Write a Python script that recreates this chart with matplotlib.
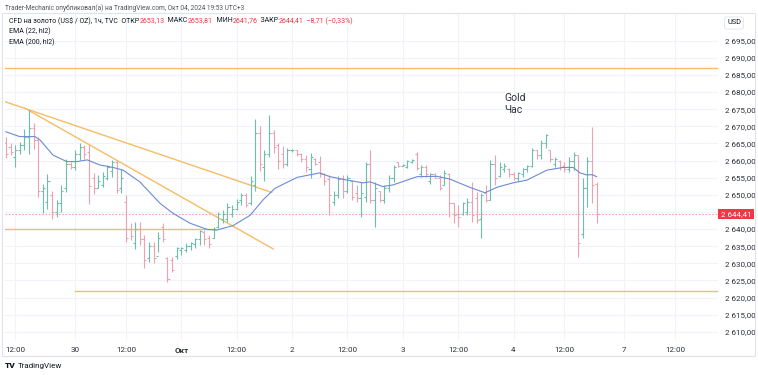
import matplotlib.pyplot as plt
import matplotlib.transforms as mtransforms
from matplotlib.patches import Rectangle

plt.rcParams['font.family'] = ['Roboto', 'DejaVu Sans']

# hourly OHLC bars, CFD gold (TVC), Sep 27 - Oct 4 2024
opens = [2665, 2664, 2661, 2663, 2664.5, 2667, 2669.5, 2666, 2651, 2648, 2650, 2645, 2647.5,
         2652, 2659, 2658, 2662, 2664, 2662.5, 2655, 2652, 2653, 2655, 2657, 2659.5, 2652,
         2648, 2640, 2636, 2640, 2637, 2631.5, 2635, 2632, 2640.5, 2631.5, 2631, 2632, 2634,
         2634, 2635, 2635.5, 2637, 2639, 2637.5, 2637.5, 2640.5, 2643, 2643, 2644.5, 2646, 2648.5,
         2650, 2647.5, 2653, 2668, 2658, 2662, 2668, 2664.5, 2662, 2659, 2663, 2663, 2662,
         2660.5, 2657.5, 2660.5, 2659.5, 2656, 2654.5, 2648, 2650, 2655, 2651, 2654, 2650.5, 2649,
         2649.5, 2659, 2648.5, 2651, 2648.5, 2652, 2655, 2659.5, 2658.5, 2658, 2659.5, 2662, 2656,
         2658, 2654, 2656, 2655, 2653, 2656, 2647.5, 2644.5, 2644.5, 2645, 2648, 2649, 2643,
         2650.5, 2648.5, 2659, 2655.5, 2657.5, 2657.5, 2656, 2655, 2656, 2657.5, 2658.5, 2663, 2661.5,
         2665, 2663, 2659, 2660, 2658.5, 2657.5, 2660, 2661.5, 2638.5, 2652, 2660, 2653.13]
highs = [2667, 2665, 2664.5, 2665.5, 2669.1, 2674.7, 2670.9, 2667, 2653.3, 2656, 2651, 2648.5, 2652.9,
         2660.6, 2659.5, 2663, 2665, 2664.5, 2664.5, 2656.3, 2655.8, 2656.8, 2658.7, 2660.2, 2660.2, 2657.5,
         2649.9, 2641.7, 2642.1, 2642.1, 2638.2, 2636.3, 2636.3, 2639.2, 2641.7, 2631.9, 2631.9, 2634.8, 2634.8,
         2635.8, 2636.3, 2637.3, 2639.7, 2639.7, 2638.2, 2640.7, 2645.1, 2645.5, 2647.5, 2647, 2648.9, 2650.5,
         2650.4, 2655.5, 2672, 2670, 2663.1, 2673.3, 2668.9, 2665.2, 2664.2, 2663.7, 2663.5, 2663.1, 2662.2,
         2661.7, 2662.2, 2660.7, 2661.2, 2656.3, 2655.8, 2651, 2655.5, 2655.8, 2655.8, 2654.3, 2652.9, 2653.8,
         2659.7, 2663.1, 2653.8, 2651, 2652.9, 2655.8, 2658.7, 2659.7, 2659, 2660.2, 2660.6, 2662.6, 2658.7,
         2658.7, 2656.3, 2656.3, 2655.8, 2657.2, 2656.3, 2647.5, 2647, 2648, 2649, 2653.8, 2650.9, 2650.4,
         2652.9, 2660.2, 2661.6, 2659.7, 2659.2, 2657.7, 2656.8, 2656.8, 2657.7, 2658.7, 2663.6, 2663.1, 2666,
         2667.9, 2663.1, 2661.1, 2660.2, 2659.7, 2661.1, 2662.6, 2661.6, 2654.8, 2661.1, 2669.9, 2653.81]
lows = [2660.8, 2661.6, 2658.2, 2661.8, 2663.1, 2662, 2663.5, 2649.5, 2644.6, 2646, 2643, 2643.6, 2645.1,
        2650.9, 2657.5, 2657.2, 2660.2, 2660.6, 2647.2, 2650.1, 2651.9, 2652.4, 2654.3, 2655.3, 2650.4, 2650.5,
        2636.3, 2636.8, 2634.2, 2635.3, 2628.5, 2630.5, 2630, 2633.4, 2636.3, 2624.4, 2627.5, 2631.4, 2632.4,
        2633.4, 2633.9, 2634.4, 2635.3, 2635.3, 2634.4, 2637.3, 2640.2, 2641.7, 2642.1, 2643.6, 2645.5, 2647,
        2646.5, 2647, 2651, 2657, 2653.9, 2661.1, 2662.2, 2657.4, 2657.9, 2658.4, 2662.5, 2661.2, 2659.7,
        2656.8, 2654.9, 2658.7, 2655.3, 2652.9, 2644.2, 2647, 2649, 2649, 2650.5, 2648.5, 2648, 2643.6,
        2648, 2647.5, 2640.7, 2648, 2647.5, 2650.9, 2653.8, 2658.2, 2658.3, 2657.7, 2659.2, 2657.2, 2655.3,
        2655.3, 2653.3, 2654.8, 2651.4, 2652.8, 2643.6, 2641.7, 2640.7, 2644.1, 2644.1, 2642.1, 2641.7, 2637.3,
        2648, 2648.5, 2652.9, 2655.3, 2656.8, 2655.3, 2654.3, 2654, 2655.3, 2656.8, 2658.2, 2660.6, 2660.6,
        2663.6, 2659.7, 2658.2, 2657.2, 2656.8, 2656.8, 2657.2, 2631.9, 2637.3, 2646.5, 2647.5, 2641.76]
closes = [2662, 2662.5, 2663, 2664.5, 2667, 2669.5, 2666, 2651, 2652, 2654, 2645, 2647.5, 2651,
          2659, 2658, 2662, 2664, 2662, 2652.5, 2652, 2654, 2655.5, 2658, 2659.5, 2651.5, 2655,
          2637.5, 2638, 2640, 2637, 2631, 2635, 2631.5, 2637.5, 2637, 2625.5, 2628, 2634.5, 2634.5,
          2635, 2636, 2637, 2639.5, 2637, 2635.5, 2640, 2644.5, 2644.5, 2646.5, 2646, 2648, 2650,
          2647, 2654, 2668, 2659, 2662, 2668, 2664, 2660, 2659, 2663, 2663.2, 2662, 2660.5,
          2658, 2661, 2659, 2656, 2654, 2650, 2650, 2654.5, 2651, 2655, 2649.5, 2649, 2650.5,
          2659, 2648.5, 2652, 2648.5, 2652, 2655, 2658, 2658.5, 2658.8, 2660, 2660.3, 2657.8, 2658,
          2656, 2656, 2655, 2652, 2656.5, 2647.5, 2644, 2643.5, 2647.5, 2648, 2644, 2642.5, 2650,
          2648.5, 2659, 2655, 2658, 2658.5, 2656, 2655, 2656.3, 2657.5, 2658.3, 2663, 2661.5, 2665,
          2667.5, 2660.5, 2660.5, 2658, 2657.5, 2660, 2661.5, 2636, 2652, 2660, 2653, 2644.41]

# EMA (22, hl2) at bar positions
ema_x = [0, 3, 6.3, 7.4, 10.2, 13.2, 15.4, 17.6, 20.4, 23.2, 25.4, 29, 33.4, 36.2, 39.9, 43.6, 45.7,
         49.2, 52.9, 55.7, 58.3, 63.1, 68, 70.2, 73.9, 77.4, 78.9, 81.7, 83.9, 89.1, 93.4, 96.2,
         100.5, 103.8, 106.4, 109.9, 112.9, 117.2, 120.7, 122.9, 124.4, 125.9, 127, 128]
ema_y = [2668.4, 2667.0, 2667.0, 2666.0, 2661.6, 2659.7, 2659.7, 2660.2, 2658.7, 2658.0, 2657.2, 2653.8,
         2647.5, 2644.6, 2641.7, 2639.9, 2639.7, 2641.0, 2644.0, 2648.5, 2651.9, 2655.1, 2656.4, 2655.3,
         2654.3, 2653.5, 2653.8, 2652.4, 2652.9, 2655.3, 2655.4, 2654.6, 2652.2, 2650.6, 2652.2, 2653.5,
         2654.3, 2657.2, 2658.0, 2658.0, 2656.4, 2655.8, 2655.9, 2655.3]

# drawn trend lines: (x0, y0, x1, y1)
trend_lines = [(-0.2, 2677.2, 57.6, 2650.7), (4.1, 2675.3, 57.9, 2634.2), (-0.2, 2640.0, 45.3, 2640.0),
               (-0.2, 2687.0, 160, 2687.0), (15, 2622.0, 160, 2622.0)]
last_price = 2644.41

tick_pos = [2, 15, 26, 38, 50, 62, 74, 86, 98, 110, 121, 134, 145]
tick_labels = ['12:00', '30', '12:00', 'Окт', '12:00', '2', '12:00', '3', '12:00', '4', '12:00', '7', '12:00']
price_ticks = list(range(2610, 2700, 5))

up_col = '#6cbfac'
dn_col = '#eba2b1'
txt = '#131722'
red = '#f23645'

fig = plt.figure(figsize=(7.58, 3.75), dpi=100)
ax = fig.add_axes([5 / 758, 35 / 375, 713 / 758, 327 / 375])

for x0, y0, x1, y1 in trend_lines:
    ax.plot([x0, x1], [y0, y1], color='#f5bd66', lw=1.0, zorder=2)

ax.axhline(last_price, color='#f3a3b1', lw=0.8, ls=(0, (1.5, 1.5)), zorder=1)

xs = list(range(len(opens)))
cols = [up_col if c >= o else dn_col for o, c in zip(opens, closes)]
ax.vlines(xs, lows, highs, colors=cols, lw=0.8, zorder=3)
ax.hlines(opens, [x - 0.45 for x in xs], xs, colors=cols, lw=0.8, zorder=3)
ax.hlines(closes, xs, [x + 0.45 for x in xs], colors=cols, lw=0.8, zorder=3)

ax.plot(ema_x, ema_y, color='#6b8bd6', lw=0.8, zorder=4)

ax.text(108, 2679.6, 'Gold\nЧас', fontsize=7.5, color='#2a2e39', va='top', ha='left', linespacing=1.15)

ax.set_xlim(-0.2, 154.3)
ax.set_ylim(2607.6, 2703.1)
ax.set_xticks(tick_pos)
ax.set_xticklabels(tick_labels)
for lbl in ax.get_xticklabels():
    if lbl.get_text() == 'Окт':
        lbl.set_fontweight('bold')
ax.set_yticks(price_ticks)
# the 2645 label sits under the last-price box
ax.set_yticklabels(['' if v == 2645 else f"{v // 1000} {v % 1000:03d},00" for v in price_ticks])
ax.yaxis.tick_right()
ax.tick_params(axis='both', length=0, labelsize=5.8, colors='#2a2e39')
ax.tick_params(axis='y', pad=5)
ax.tick_params(axis='x', pad=5)
ax.grid(True, color='#f0f3fa', lw=0.8)
ax.set_axisbelow(True)
for s in ax.spines.values():
    s.set_visible(False)

trans = mtransforms.blended_transform_factory(ax.transAxes, ax.transData)
ax.text(1.004, last_price, '2 644,41', transform=trans, fontsize=5.8, color='white', va='center', ha='left',
        bbox=dict(boxstyle='square,pad=0.3', fc=red, ec='none'), clip_on=False, zorder=10)

# frame around the chart panel
fig.patches.append(Rectangle((2 / 758, 1 - 356 / 375), 753 / 758, 343 / 375, transform=fig.transFigure,
                             fill=False, ec='#e0e3eb', lw=0.8))

fig.text(5 / 758, 1 - 8 / 375, 'Trader-Mechanic опубликовал(а) на TradingView.com, Окт 04, 2024 19:53 UTC+3',
         fontsize=4.7, color='#50535e', va='center')
fig.text(727 / 758, 1 - 23 / 375, 'USD', fontsize=5.3, color=txt, va='center',
         bbox=dict(boxstyle='round,pad=0.35', fc='white', ec='#e0e3eb', lw=0.6))

# legend rows, pieces placed one after another
fig.canvas.draw()
rend = fig.canvas.get_renderer()
pieces = [('CFD на золото (US$ / OZ), 1ч, TVC  ОТКР', txt), ('2653,13', red), ('  МАКС', txt), ('2653,81', red),
          ('  МИН', txt), ('2641,76', red), ('  ЗАКР', txt), ('2644,41', red), ('  −8,71 (−0,33%)', red)]
xp = 9
for s, c in pieces:
    t = fig.text(xp / 758, 1 - 21 / 375, s, fontsize=5.05, color=c, va='center')
    xp = t.get_window_extent(rend).x1
fig.text(9 / 758, 1 - 31 / 375, 'EMA (22, hl2)', fontsize=5.05, color=txt, va='center')
fig.text(9 / 758, 1 - 42 / 375, 'EMA (200, hl2)', fontsize=5.05, color=txt, va='center')

fig.text(5 / 758, 1 - 366 / 375, 'TV', fontsize=6, fontweight='heavy', color=txt, va='center')
fig.text(18 / 758, 1 - 366 / 375, 'TradingView', fontsize=5.8, color=txt, va='center')

fig.savefig('out.png', dpi=100, facecolor='white')
